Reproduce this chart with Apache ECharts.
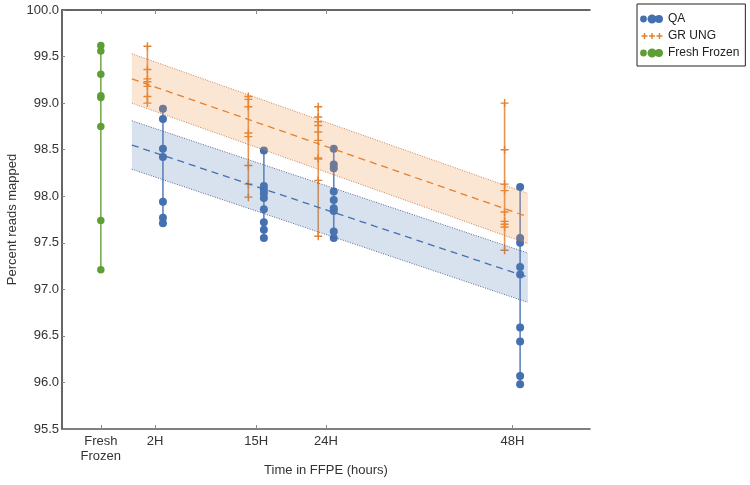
<!DOCTYPE html>
<html>
<head>
<meta charset="utf-8">
<script src="https://cdn.jsdelivr.net/npm/echarts@6/dist/echarts.min.js"></script>
<style>html,body{margin:0;padding:0;background:#fff}#c{width:750px;height:485px}</style>
</head>
<body>
<div id="c"></div>
<script>
// ---- data ----
const xTickValues = [-5, 2, 15, 24, 48];
const xTickLabels = ['Fresh\nFrozen', '2H', '15H', '24H', '48H'];
const xMin = -10, xMax = 58;
const yMin = 95.5, yMax = 100.0, yStep = 0.5;

const freshX = -5;
const freshValues = [99.62, 99.56, 99.31, 99.08, 99.06, 98.75, 97.74, 97.21];

const qaX = [3, 16, 25, 49];
const qaValues = [
  [98.94, 98.83, 98.51, 98.42, 97.94, 97.77, 97.71],
  [98.49, 98.11, 98.07, 98.03, 97.98, 97.86, 97.72, 97.64, 97.55],
  [98.51, 98.34, 98.30, 98.05, 97.96, 97.87, 97.84, 97.62, 97.55],
  [98.10, 97.55, 97.50, 97.24, 97.16, 96.59, 96.44, 96.07, 95.98]
];

const grX = [1, 14, 23, 47];
const grValues = [
  [99.61, 99.36, 99.26, 99.23, 99.18, 99.07, 99.00],
  [99.07, 99.04, 98.96, 98.68, 98.64, 98.33, 98.13, 97.99],
  [98.96, 98.85, 98.80, 98.76, 98.69, 98.60, 98.41, 98.40, 98.17, 97.57],
  [99.00, 98.50, 98.13, 98.06, 97.83, 97.73, 97.70, 97.67, 97.42]
];

const bandX = [-1, 50];
const grFit = [99.26, 97.78], grUpper = [99.53, 98.03], grLower = [99.00, 97.49];
const qaFit = [98.55, 97.13], qaUpper = [98.81, 97.39], qaLower = [98.29, 96.86];

// ---- styles ----
const BLUE = '#4470b0', ORANGE = '#e3812f', GREEN = '#5e9f35';
const FONT = '"Liberation Sans", Arial, sans-serif';

function dotsIcon() {
  const rs = [3.4, 4.5, 4], cs = [3.5, 12, 19];
  let p = 'path://';
  for (let i = 0; i < 3; i++) {
    const r = rs[i], cx = cs[i];
    p += `M${cx - r},4.5a${r},${r} 0 1,0 ${2 * r},0a${r},${r} 0 1,0 ${-2 * r},0Z`;
  }
  p += 'M0,0.01h0.01v0.01h-0.01ZM23,8.99h0.01v0.01h-0.01Z';
  return p;
}
function crossIcon() {
  const cs = [4.5, 12, 19.5], h = 3, t = 0.75;
  let p = 'path://';
  for (const cx of cs) {
    p += `M${cx - t},${4.5 - h}H${cx + t}V${4.5 - t}H${cx + h}V${4.5 + t}H${cx + t}V${4.5 + h}H${cx - t}V${4.5 + t}H${cx - h}V${4.5 - t}H${cx - t}Z`;
  }
  p += 'M0,0.01h0.01v0.01h-0.01ZM23,8.99h0.01v0.01h-0.01Z';
  return p;
}
const CROSS = 'path://M4.1,0H5.9V4.1H10V5.9H5.9V10H4.1V5.9H0V4.1H4.1Z';

function pts(xs, groups) {
  const out = [];
  groups.forEach((g, i) => g.forEach(v => out.push([xs[i], v])));
  return out;
}
function rangeLines(name, x, vals, color) {
  return {
    name: name, type: 'line', silent: true, symbol: 'none', z: 2,
    data: [[x, Math.max(...vals)], [x, Math.min(...vals)]],
    lineStyle: { color: color, width: 1.6, opacity: 0.85 }
  };
}
function bandSeries(upper, lower, fill) {
  return {
    type: 'custom', silent: true, z: 5,
    data: [[bandX[0], upper[0]]],
    renderItem: function (params, api) {
      return {
        type: 'polygon',
        shape: { points: [
          api.coord([bandX[0], upper[0]]), api.coord([bandX[1], upper[1]]),
          api.coord([bandX[1], lower[1]]), api.coord([bandX[0], lower[0]])
        ] },
        style: { fill: fill }
      };
    }
  };
}
function edgeLine(ys, color, type, width) {
  return {
    type: 'line', silent: true, symbol: 'none', z: 6,
    data: [[bandX[0], ys[0]], [bandX[1], ys[1]]],
    lineStyle: { color: color, width: width, type: type }
  };
}

const series = [];
series.push(rangeLines('ffl', freshX, freshValues, GREEN));
qaX.forEach((x, i) => series.push(rangeLines('qal' + i, x, qaValues[i], BLUE)));
grX.forEach((x, i) => series.push(rangeLines('grl' + i, x, grValues[i], ORANGE)));
series.push({ name: 'QA', type: 'scatter', z: 3, symbol: 'circle', symbolSize: 8,
  data: pts(qaX, qaValues), itemStyle: { color: BLUE, opacity: 1 } });
series.push({ name: 'GR UNG', type: 'scatter', z: 3, symbol: CROSS, symbolSize: 8,
  data: pts(grX, grValues), itemStyle: { color: ORANGE, opacity: 1 } });
series.push({ name: 'Fresh Frozen', type: 'scatter', z: 3, symbol: 'circle', symbolSize: 7.5,
  data: freshValues.map(v => [freshX, v]), itemStyle: { color: GREEN, opacity: 1 } });
series.push(bandSeries(grUpper, grLower, 'rgba(240,150,80,0.25)'));
series.push(bandSeries(qaUpper, qaLower, 'rgba(90,130,185,0.24)'));
series.push(edgeLine(grUpper, 'rgba(190,110,60,0.85)', [1, 1.5], 1));
series.push(edgeLine(grLower, 'rgba(190,110,60,0.85)', [1, 1.5], 1));
series.push(edgeLine(qaUpper, 'rgba(60,80,120,0.85)', [1, 1.5], 1));
series.push(edgeLine(qaLower, 'rgba(60,80,120,0.85)', [1, 1.5], 1));
series.push(edgeLine(grFit, ORANGE, [7, 5], 1.3));
series.push(edgeLine(qaFit, BLUE, [7, 5], 1.3));

const chart = echarts.init(document.getElementById('c'), null, { renderer: 'canvas' });
chart.setOption({
  animation: false,
  backgroundColor: '#fff',
  textStyle: { fontFamily: FONT },
  grid: { left: 62, right: 160, top: 10, bottom: 56, containLabel: false, outerBoundsMode: 'none' },
  legend: {
    orient: 'vertical', left: 637, top: 4,
    padding: [9, 6, 7, 3], itemGap: 5, itemWidth: 23, itemHeight: 9,
    borderColor: '#222', borderWidth: 1,
    textStyle: { fontSize: 12, color: '#222', fontFamily: FONT },
    selectedMode: false,
    data: [
      { name: 'QA', icon: dotsIcon() },
      { name: 'GR UNG', icon: crossIcon() },
      { name: 'Fresh Frozen', icon: dotsIcon() }
    ]
  },
  xAxis: [{
    type: 'value', min: xMin, max: xMax, position: 'bottom',
    name: 'Time in FFPE (hours)', nameLocation: 'middle', nameGap: 35, nameMoveOverlap: false,
    nameTextStyle: { fontSize: 13, color: '#333', fontFamily: FONT },
    splitLine: { show: false },
    axisLine: { show: true, onZero: false, lineStyle: { color: '#555', width: 1.5 } },
    axisTick: { show: true, inside: true, length: 4, customValues: xTickValues, lineStyle: { color: '#888' } },
    axisLabel: {
      customValues: xTickValues, margin: 5, fontSize: 13, color: '#333', lineHeight: 15,
      formatter: v => { const i = xTickValues.indexOf(v); return i >= 0 ? xTickLabels[i] : ''; }
    }
  }, {
    type: 'value', min: xMin, max: xMax, position: 'top',
    splitLine: { show: false },
    axisLine: { show: true, onZero: false, lineStyle: { color: '#333', width: 1.5 } },
    axisTick: { show: true, inside: true, length: 4, customValues: xTickValues, lineStyle: { color: '#888' } },
    axisLabel: { show: false }
  }],
  yAxis: {
    type: 'value', min: yMin, max: yMax, interval: yStep,
    name: 'Percent reads mapped', nameLocation: 'middle', nameGap: 43, nameMoveOverlap: false,
    nameTextStyle: { fontSize: 13, color: '#333', fontFamily: FONT },
    splitLine: { show: false },
    axisLine: { show: true, onZero: false, lineStyle: { color: '#333', width: 1.5 } },
    axisTick: { show: true, inside: true, length: 3, lineStyle: { color: '#888' } },
    axisLabel: { margin: 3, fontSize: 13, color: '#333', formatter: v => v.toFixed(1) }
  },
  series: series
});
</script>
</body>
</html>
